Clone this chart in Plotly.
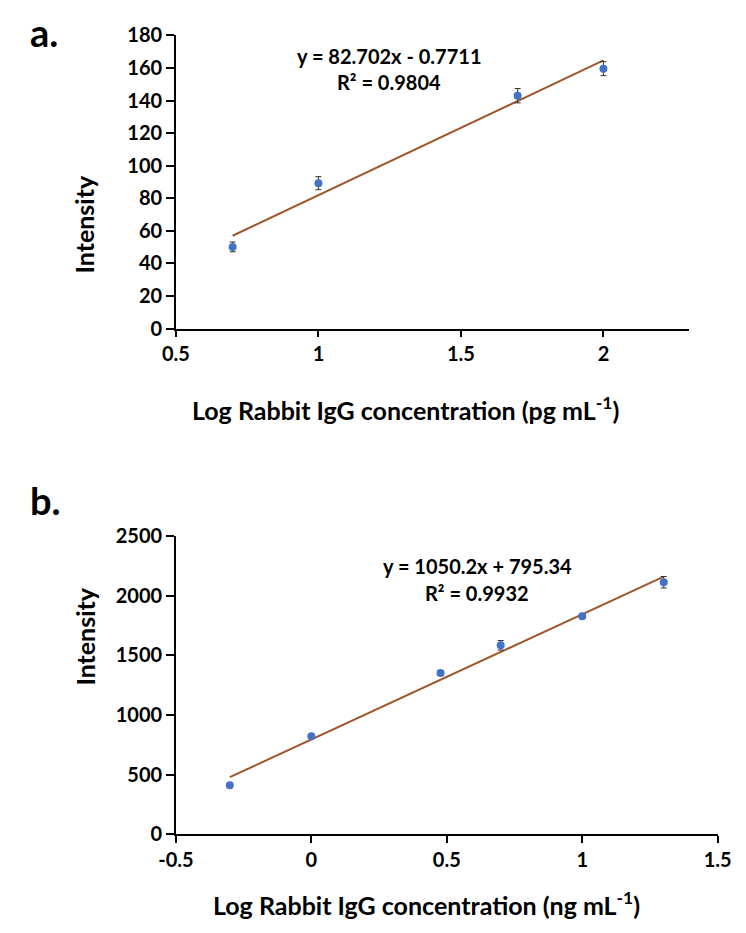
import plotly.graph_objects as go

# Panel a data
xa = [0.699, 1.0, 1.699, 2.0]
ya = [50.2, 89.3, 143.0, 159.6]
ea = [3.0, 4.0, 4.4, 4.3]
slope_a, icpt_a = 82.702, -0.7711

# Panel b data
xb = [-0.301, 0.0, 0.477, 0.699, 1.0, 1.301]
yb = [411, 823, 1352, 1585, 1828, 2114]
eb = [15, 15, 20, 40, 20, 48]
slope_b, icpt_b = 1050.2, 795.34

yticks_a = [0, 20, 40, 60, 80, 100, 120, 140, 160, 180]
xticks_a = [0.5, 1, 1.5, 2]
yticks_b = [0, 500, 1000, 1500, 2000, 2500]
xticks_b = [-0.5, 0, 0.5, 1, 1.5]

W, H = 746, 933
FONT = "Lato"
BLUE = "#4472C4"
TREND = "#A0562B"

def px(v):
    return v / W

def py(v):
    return 1 - v / H

fig = go.Figure()

fig.add_trace(go.Scatter(x=[xa[0], xa[-1]], y=[slope_a * xa[0] + icpt_a, slope_a * xa[-1] + icpt_a],
                         mode="lines", line=dict(color=TREND, width=2), xaxis="x", yaxis="y", showlegend=False))
fig.add_trace(go.Scatter(x=xa, y=ya, mode="markers", marker=dict(color=BLUE, size=8),
                         error_y=dict(type="data", array=ea, color="#333333", thickness=1, width=3),
                         xaxis="x", yaxis="y", showlegend=False))

fig.add_trace(go.Scatter(x=[xb[0], xb[-1]], y=[slope_b * xb[0] + icpt_b, slope_b * xb[-1] + icpt_b],
                         mode="lines", line=dict(color=TREND, width=2), xaxis="x2", yaxis="y2", showlegend=False))
fig.add_trace(go.Scatter(x=xb, y=yb, mode="markers", marker=dict(color=BLUE, size=8),
                         error_y=dict(type="data", array=eb, color="#333333", thickness=1, width=3),
                         xaxis="x2", yaxis="y2", showlegend=False))

axis_common = dict(showgrid=False, zeroline=False, showline=True, linecolor="black", linewidth=1.5,
                   ticks="outside", tickcolor="black", tickwidth=1.5,
                   tickfont=dict(family=FONT, size=20, color="black", weight="bold"))

fig.update_layout(
    width=W, height=H, margin=dict(l=0, r=0, t=0, b=0),
    paper_bgcolor="white", plot_bgcolor="white",
    font=dict(family=FONT, color="black"),
    xaxis=dict(domain=[px(165), px(701)], range=[0.5, 2.3], tickvals=xticks_a, ticktext=[str(v) for v in xticks_a],
               anchor="y", ticklen=7, **axis_common),
    yaxis=dict(domain=[py(324), py(23)], range=[0, 180], tickvals=yticks_a, anchor="x", ticklen=8,
               ticksuffix="\u2002", **axis_common),
    xaxis2=dict(domain=[px(165), px(731)], range=[-0.5, 1.5], tickvals=xticks_b,
                ticktext=["-0.5", "0", "0.5", "1", "1.5"], anchor="y2", ticklen=7, **axis_common),
    yaxis2=dict(domain=[py(843), py(537)], range=[0, 2500], tickvals=yticks_b, anchor="x2", ticklen=8,
                ticksuffix="\u2002", **axis_common),
)

ann = [
    dict(text="<b>a.</b>", x=px(10), y=py(20), xanchor="left", yanchor="middle", font=dict(size=38)),
    dict(text="<b>b.</b>", x=px(10), y=py(500), xanchor="left", yanchor="middle", font=dict(size=38)),
    dict(text="<b>Intensity</b>", x=px(69), y=py(217), xanchor="center", yanchor="middle", textangle=-90, font=dict(size=25)),
    dict(text="<b>Intensity</b>", x=px(69), y=py(640), xanchor="center", yanchor="middle", textangle=-90, font=dict(size=25)),
    dict(text="<b>Log Rabbit IgG concentration (pg mL<sup>-1</sup>)</b>", x=px(405), y=py(406), xanchor="center", yanchor="middle", font=dict(size=25)),
    dict(text="<b>Log Rabbit IgG concentration (ng mL<sup>-1</sup>)</b>", x=px(427), y=py(914), xanchor="center", yanchor="middle", font=dict(size=25)),
    dict(text="<b>y = 82.702x - 0.7711</b>", x=px(388), y=py(44), xanchor="center", yanchor="middle", font=dict(size=20)),
    dict(text="<b>R² = 0.9804</b>", x=px(388), y=py(71), xanchor="center", yanchor="middle", font=dict(size=20)),
    dict(text="<b>y = 1050.2x + 795.34</b>", x=px(480), y=py(568), xanchor="center", yanchor="middle", font=dict(size=20)),
    dict(text="<b>R² = 0.9932</b>", x=px(480), y=py(595), xanchor="center", yanchor="middle", font=dict(size=20)),
]
for a in ann:
    a.update(xref="paper", yref="paper", showarrow=False)
    a["font"] = dict(family=FONT, color="black", **a["font"])
fig.update_layout(annotations=ann)

fig.write_html("out.html")
